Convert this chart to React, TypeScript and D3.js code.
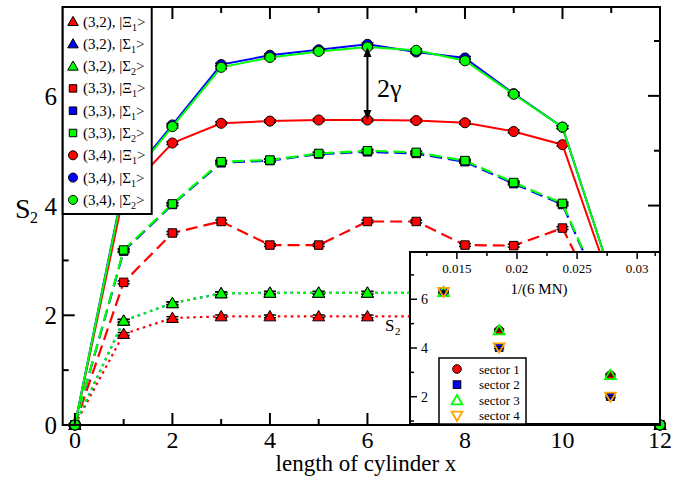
import React from 'react';
import * as d3 from 'd3';

// ---------- data ----------
const CYL_X = [0, 1, 2, 3, 4, 5, 6, 7, 8, 9, 10, 12];
const S32_XI1 = [0, 1.66, 1.95, 1.98, 1.98, 1.98, 1.98, 1.98, 1.98, 1.95, 1.66, 0];
const S32_SIG1 = [0, 1.9, 2.22, 2.4, 2.41, 2.41, 2.41, 2.41, 2.41, 2.4, 2.22, 0];
const S32_SIG2 = [0, 1.9, 2.22, 2.4, 2.41, 2.41, 2.41, 2.41, 2.41, 2.4, 2.22, 0];
const S33_XI1 = [0, 2.6, 3.5, 3.71, 3.28, 3.28, 3.71, 3.71, 3.28, 3.27, 3.59, 0];
const S33_SIG1 = [0, 3.17, 4.02, 4.78, 4.82, 4.94, 4.98, 4.95, 4.8, 4.4, 4.02, 0];
const S33_SIG2 = [0, 3.19, 4.03, 4.8, 4.83, 4.95, 5.0, 4.97, 4.82, 4.42, 4.04, 0];
const S34_XI1 = [0, 4.2, 5.14, 5.5, 5.54, 5.56, 5.56, 5.55, 5.51, 5.35, 5.11, 0];
const S34_SIG1 = [0, 4.38, 5.47, 6.57, 6.74, 6.84, 6.94, 6.8, 6.69, 6.04, 5.43, 0];
const S34_SIG2 = [0, 4.35, 5.44, 6.52, 6.7, 6.81, 6.89, 6.83, 6.64, 6.03, 5.43, 0];
const ERR = 0.025;

const LEGEND_PREFIX = ['(3,2), |Ξ', '(3,2), |Σ', '(3,2), |Σ', '(3,3), |Ξ', '(3,3), |Σ', '(3,3), |Σ', '(3,4), |Ξ', '(3,4), |Σ', '(3,4), |Σ'];
const LEGEND_SUB = ['1', '1', '2', '1', '1', '2', '1', '1', '2'];

const X_TICKS = [0, 2, 4, 6, 8, 10, 12];
const X_MINOR = [1, 3, 5, 7, 9, 11];
const Y_TICKS = [0, 2, 4, 6];
const Y_MINOR = [1, 3, 5, 7];

const GAP_X = 6;
const GAP_TOP = 6.89;
const GAP_BOTTOM = 5.56;

// inset
const INSET_X = [1 / 72, 1 / 54, 1 / 36];
const SECTOR1 = [6.3, 4.73, 2.89];
const SECTOR2 = [6.3, 4.02, 2.0];
const SECTOR3 = [6.3, 4.73, 2.89];
const SECTOR4 = [6.3, 4.02, 2.0];
const SECTOR_LABELS = ['sector 1', 'sector 2', 'sector 3', 'sector 4'];
const INSET_X_TICKS = [0.015, 0.02, 0.025, 0.03];
const INSET_X_MINOR = [0.0125, 0.0175, 0.0225, 0.0275, 0.0315];
const INSET_Y_TICKS = [2, 4, 6];
const INSET_Y_MINOR = [1, 3, 5, 7];

// ---------- styling ----------
const RED = '#ff0000';
const BLUE = '#0000ff';
const GREEN = '#00ff00';
const ORANGE = '#ffa500';
const FONT = '"Liberation Serif", "Times New Roman", Times, "DejaVu Serif", serif';
const TS = { fontFamily: FONT };

const seriesData = [S32_XI1, S32_SIG1, S32_SIG2, S33_XI1, S33_SIG1, S33_SIG2, S34_XI1, S34_SIG1, S34_SIG2];
const seriesColor = [RED, BLUE, GREEN, RED, BLUE, GREEN, RED, BLUE, GREEN];
const seriesSym = ['tri', 'tri', 'tri', 'sq', 'sq', 'sq', 'circ', 'circ', 'circ'];
const seriesDash = ['2.5,4', '2.5,4', '2.5,4', '12,6', '12,6', '12,6', null, null, null];

function symPath(kind: string, size: number) {
  const t = kind === 'tri' ? d3.symbolTriangle : kind === 'sq' ? d3.symbolSquare : d3.symbolCircle;
  return d3.symbol().type(t).size(size)() as string;
}
const symSize: Record<string, number> = { tri: 62, sq: 72, circ: 80 };

export default function App() {
  const x = d3.scaleLinear().domain([-0.25, 12]).range([62.7, 660]);
  const y = d3.scaleLinear().domain([0, 7.62]).range([425, 7]);
  const line = d3.line<[number, number]>().x(d => x(d[0])).y(d => y(d[1]));

  const ix = d3.scaleLinear().domain([0.0111, 0.0319]).range([410, 660]);
  const iy = d3.scaleLinear().domain([0.88, 7.94]).range([424, 252]);

  const L = x.range()[0], R = x.range()[1], B = y.range()[0], T = y.range()[1];

  const sectors = [SECTOR1, SECTOR2, SECTOR3, SECTOR4];
  const secDraw = (k: number, cx: number, cy: number, key: string) => {
    if (k === 0) return <circle key={key} cx={cx} cy={cy} r={4.3} fill={RED} stroke="#000" strokeWidth={1} />;
    if (k === 1) return <rect key={key} x={cx - 3.8} y={cy - 3.8} width={7.6} height={7.6} fill={BLUE} stroke="#000" strokeWidth={1} />;
    if (k === 2) return <path key={key} d={symPath('tri', 50)} transform={`translate(${cx},${cy + 1})`} fill="none" stroke={GREEN} strokeWidth={1.8} />;
    return <path key={key} d={symPath('tri', 50)} transform={`translate(${cx},${cy - 1}) rotate(180)`} fill="none" stroke={ORANGE} strokeWidth={1.8} />;
  };

  return (
    <svg width={688} height={479} style={{ position: 'absolute', left: 0, top: 0, background: '#fff', fontFamily: FONT }}>
      <rect x={0} y={0} width={688} height={479} fill="#fff" />
      {/* series */}
      {seriesData.map((vals, si) => {
        const pts = CYL_X.map((xv, i) => [xv, vals[i]] as [number, number]);
        return (
          <g key={si}>
            <path d={line(pts) as string} fill="none" stroke={seriesColor[si]} strokeWidth={seriesDash[si] ? 2.2 : 2}
              strokeDasharray={seriesDash[si] || undefined} />
            {pts.map((p, i) => (
              <g key={i}>
                <line x1={x(p[0]) - 6} x2={x(p[0]) + 6} y1={y(p[1] + ERR)} y2={y(p[1] + ERR)} stroke="#000" strokeWidth={1.5} />
                <line x1={x(p[0]) - 6} x2={x(p[0]) + 6} y1={y(p[1] - ERR)} y2={y(p[1] - ERR)} stroke="#000" strokeWidth={1.5} />
                <path d={symPath(seriesSym[si], symSize[seriesSym[si]])}
                  transform={`translate(${x(p[0])},${y(p[1]) + (seriesSym[si] === 'tri' ? 1 : 0)})`}
                  fill={seriesColor[si]} stroke="#000" strokeWidth={1} />
              </g>
            ))}
          </g>
        );
      })}

      {/* gap arrow */}
      <g>
        <line x1={x(GAP_X)} x2={x(GAP_X)} y1={y(GAP_TOP) + 8} y2={y(GAP_BOTTOM) - 8} stroke="#000" strokeWidth={2} />
        <path d={`M${x(GAP_X)},${y(GAP_TOP)} l-4,10 l8,0 z`} fill="#000" />
        <path d={`M${x(GAP_X)},${y(GAP_BOTTOM)} l-4,-10 l8,0 z`} fill="#000" />
        <text x={377} y={97} fontSize={26} style={TS}>2γ</text>
      </g>

      {/* main frame and ticks */}
      <rect x={L} y={T} width={R - L} height={B - T} fill="none" stroke="#000" strokeWidth={2} />
      {X_TICKS.map(t => (
        <g key={'xt' + t}>
          <line x1={x(t)} x2={x(t)} y1={B} y2={B - 12} stroke="#000" strokeWidth={2} />
          <line x1={x(t)} x2={x(t)} y1={T} y2={T + 12} stroke="#000" strokeWidth={2} />
          <text x={x(t)} y={448} fontSize={24} textAnchor="middle" style={TS}>{t}</text>
        </g>
      ))}
      {X_MINOR.map(t => (
        <g key={'xm' + t}>
          <line x1={x(t)} x2={x(t)} y1={B} y2={B - 6} stroke="#000" strokeWidth={2} />
          <line x1={x(t)} x2={x(t)} y1={T} y2={T + 6} stroke="#000" strokeWidth={2} />
        </g>
      ))}
      {Y_TICKS.map(t => (
        <g key={'yt' + t}>
          <line x1={L} x2={L + 12} y1={y(t)} y2={y(t)} stroke="#000" strokeWidth={2} />
          <line x1={R} x2={R - 12} y1={y(t)} y2={y(t)} stroke="#000" strokeWidth={2} />
          <text x={57} y={y(t) + 9} fontSize={25} textAnchor="end" style={TS}>{t}</text>
        </g>
      ))}
      {Y_MINOR.map(t => (
        <g key={'ym' + t}>
          <line x1={L} x2={L + 6} y1={y(t)} y2={y(t)} stroke="#000" strokeWidth={2} />
          <line x1={R} x2={R - 6} y1={y(t)} y2={y(t)} stroke="#000" strokeWidth={2} />
        </g>
      ))}
      <text x={366} y={471} fontSize={23} textAnchor="middle" style={TS}>length of cylinder x</text>
      <text x={15} y={218} fontSize={28} style={TS}>S</text>
      <text x={30} y={223} fontSize={16} style={TS}>2</text>

      {/* main legend */}
      <rect x={L} y={T} width={89} height={207} fill="#fff" stroke="#000" strokeWidth={2} />
      {LEGEND_PREFIX.map((lab, i) => {
        const cy = 21.5 + i * 22.3;
        const kind = seriesSym[i];
        return (
          <g key={'lg' + i}>
            <path d={symPath(kind, kind === 'tri' ? 48 : kind === 'sq' ? 56 : 64)}
              transform={`translate(73,${cy + (kind === 'tri' ? 1 : 0)})`} fill={seriesColor[i]} stroke="#000" strokeWidth={1} />
            <text x={83} y={cy + 5} fontSize={15} style={TS}>
              {lab}
              <tspan fontSize={10} dy={4}>{LEGEND_SUB[i]}</tspan>
              <tspan dy={-4}>&gt;</tspan>
            </text>
          </g>
        );
      })}

      {/* inset */}
      <rect x={410} y={252} width={250} height={172} fill="#fff" stroke="#000" strokeWidth={2} />
      {INSET_X_TICKS.map(t => (
        <g key={'ixt' + t}>
          <line x1={ix(t)} x2={ix(t)} y1={252} y2={259} stroke="#000" strokeWidth={1.5} />
          <text x={ix(t)} y={273} fontSize={13} textAnchor="middle" style={TS}>{d3.format('')(t)}</text>
        </g>
      ))}
      {INSET_X_MINOR.map(t => (
        <line key={'ixm' + t} x1={ix(t)} x2={ix(t)} y1={252} y2={256} stroke="#000" strokeWidth={1.5} />
      ))}
      {INSET_Y_TICKS.map(t => (
        <g key={'iyt' + t}>
          <line x1={410} x2={417} y1={iy(t)} y2={iy(t)} stroke="#000" strokeWidth={1.5} />
          <text x={421} y={iy(t) + 5} fontSize={14} style={TS}>{t}</text>
        </g>
      ))}
      {INSET_Y_MINOR.map(t => (
        <line key={'iym' + t} x1={410} x2={414} y1={iy(t)} y2={iy(t)} stroke="#000" strokeWidth={1.5} />
      ))}
      <text x={539} y={294} fontSize={15} textAnchor="middle" style={TS}>1/(6 MN)</text>
      <text x={385} y={331} fontSize={17} style={TS}>S</text>
      <text x={395} y={335} fontSize={11} style={TS}>2</text>

      {sectors.map((vals, k) => (
        <g key={'sec' + k}>
          {INSET_X.map((xv, i) => {
            const cx = ix(xv), cy = iy(vals[i]);
            return (
              <g key={i}>
                <line x1={cx - 5} x2={cx + 5} y1={cy - 1} y2={cy - 1} stroke="#000" strokeWidth={1.2} />
                <line x1={cx - 5} x2={cx + 5} y1={cy + 1} y2={cy + 1} stroke="#000" strokeWidth={1.2} />
                {secDraw(k, cx, cy, 's')}
              </g>
            );
          })}
        </g>
      ))}

      {/* inset legend */}
      <rect x={439} y={358} width={87} height={66} fill="#fff" stroke="#000" strokeWidth={1.5} />
      {SECTOR_LABELS.map((lab, k) => {
        const cy = 369 + k * 15.6;
        return (
          <g key={'sl' + k}>
            {secDraw(k, 457, cy, 'sym')}
            <text x={479} y={cy + 4.5} fontSize={13} style={TS}>{lab}</text>
          </g>
        );
      })}
    </svg>
  );
}
